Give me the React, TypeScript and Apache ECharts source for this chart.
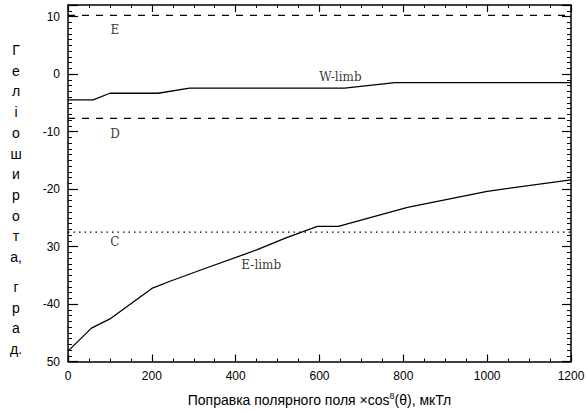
import React, { useEffect, useRef } from "react";
import * as echarts from "echarts";

// ---- data ----
const xTickValues = [0, 200, 400, 600, 800, 1000, 1200];
const xTickLabels = ["0", "200", "400", "600", "800", "1000", "1200"];
const yTickValues = [-50, -40, -30, -20, -10, 0, 10];
const yTickLabels = ["50", "-40", "30", "-20", "-10", "0", "10"];

const wLimbX = [0, 60, 100, 215, 290, 660, 780, 1200];
const wLimbY = [-4.5, -4.5, -3.35, -3.35, -2.45, -2.45, -1.5, -1.5];

const eLimbX = [0, 56, 100, 200, 245, 320, 450, 520, 595, 645, 810, 1000, 1200];
const eLimbY = [-48.2, -44.2, -42.6, -37.3, -36.0, -34.0, -30.6, -28.5, -26.5, -26.5, -23.2, -20.4, -18.4];

const levelE = 10.2;
const levelD = -7.7;
const levelC = -27.5;

const annotationLabels = ["E", "D", "C", "W-limb", "E-limb"];
const annotationX = [112, 112, 112, 650, 461];
const annotationY = [7.6, -10.4, -29.2, -0.5, -33.3];

const yTitleTop = ["Г", "е", "л", "і", "о", "ш", "и", "р", "о", "т", "а,"];
const yTitleBottom = ["г", "р", "а", "д."];

const xName = "Поправка полярного поля ×cos{sup|8}(θ), мкТл";

const X_MIN = 0, X_MAX = 1200, Y_MIN = -50, Y_MAX = 12;

export default function App() {
  const ref = useRef<HTMLDivElement>(null);

  useEffect(() => {
    if (!ref.current) return;
    const chart = echarts.init(ref.current, undefined, { renderer: "svg" });
    const black = "#000";
    const tickFont = { fontFamily: "Liberation Sans", fontSize: 12, color: black };

    const yLabel = (v: number) => {
      const i = yTickValues.findIndex((t) => Math.abs(t - v) < 1e-6);
      return i >= 0 ? yTickLabels[i] : "";
    };
    const xLabel = (v: number) => {
      const i = xTickValues.findIndex((t) => Math.abs(t - v) < 1e-6);
      return i >= 0 ? xTickLabels[i] : "";
    };

    const axisLine = { show: true, onZero: false, lineStyle: { color: black, width: 1.5 } };

    const level = (y: number) => [[X_MIN, y], [X_MAX, y]];

    const letterStyle = (ch: string) => ({
      text: ch,
      fill: black,
      fontSize: 14,
      fontFamily: "Liberation Sans",
      fontWeight: "normal",
      align: "center",
      verticalAlign: "middle",
    });

    const graphics: any[] = [];
    yTitleTop.forEach((ch, i) => {
      graphics.push({ type: "text", x: 16, y: 50 + i * 20.7, style: letterStyle(ch) });
    });
    yTitleBottom.forEach((ch, i) => {
      graphics.push({ type: "text", x: 16, y: 287 + i * 20.5, style: letterStyle(ch) });
    });

    chart.setOption({
      animation: false,
      backgroundColor: "#fff",
      grid: { left: 68, right: 17, top: 5, bottom: 50, containLabel: false },
      xAxis: [
        {
          type: "value",
          min: X_MIN,
          max: X_MAX,
          interval: 200,
          position: "bottom",
          axisLine,
          axisTick: { show: true, inside: true, length: 7, lineStyle: { color: black, width: 1.2 } },
          minorTick: { show: true, splitNumber: 4, length: 3, lineStyle: { color: black, width: 1 } },
          splitLine: { show: false },
          axisLabel: { ...tickFont, margin: 8, formatter: xLabel },
          name: xName,
          nameLocation: "middle",
          nameGap: 30,
          nameTextStyle: {
            fontFamily: "Liberation Sans",
            fontSize: 14,
            color: black,
            rich: { sup: { fontSize: 9, verticalAlign: "top", padding: [0, 0, 8, 0], fontFamily: "Liberation Sans", color: black } },
          },
        },
        {
          type: "value",
          min: X_MIN,
          max: X_MAX,
          interval: 200,
          position: "top",
          axisLine,
          axisTick: { show: true, inside: true, length: 7, lineStyle: { color: black, width: 1.2 } },
          minorTick: { show: true, splitNumber: 4, length: 3, lineStyle: { color: black, width: 1 } },
          splitLine: { show: false },
          axisLabel: { show: false },
        },
      ],
      yAxis: [
        {
          type: "value",
          min: Y_MIN,
          max: Y_MAX,
          interval: 10,
          position: "left",
          axisLine,
          axisTick: { show: true, inside: true, length: 10, lineStyle: { color: black, width: 1.2 } },
          minorTick: { show: true, splitNumber: 10, length: 4, lineStyle: { color: black, width: 1 } },
          splitLine: { show: false },
          axisLabel: { ...tickFont, margin: 8, formatter: yLabel },
        },
        {
          type: "value",
          min: Y_MIN,
          max: Y_MAX,
          interval: 10,
          position: "right",
          axisLine,
          axisTick: { show: true, inside: true, length: 9, lineStyle: { color: black, width: 1.2 } },
          minorTick: { show: true, splitNumber: 10, length: 4, lineStyle: { color: black, width: 1 } },
          splitLine: { show: false },
          axisLabel: { show: false },
        },
      ],
      series: [
        {
          name: "W-limb",
          type: "line",
          data: wLimbX.map((x, i) => [x, wLimbY[i]]),
          symbol: "none",
          lineStyle: { color: black, width: 1.3 },
        },
        {
          name: "E-limb",
          type: "line",
          data: eLimbX.map((x, i) => [x, eLimbY[i]]),
          symbol: "none",
          lineStyle: { color: black, width: 1.3 },
        },
        {
          name: "E level",
          type: "line",
          data: level(levelE),
          symbol: "none",
          lineStyle: { color: black, width: 1.2, type: [7, 7] },
        },
        {
          name: "D level",
          type: "line",
          data: level(levelD),
          symbol: "none",
          lineStyle: { color: black, width: 1.2, type: [7, 7] },
        },
        {
          name: "C level",
          type: "line",
          data: level(levelC),
          symbol: "none",
          lineStyle: { color: black, width: 1.2, type: [1.5, 4] },
        },
        {
          name: "labels",
          type: "scatter",
          symbolSize: 0,
          itemStyle: { color: black },
          data: annotationX.map((x, i) => ({ value: [x, annotationY[i]], name: annotationLabels[i] })),
          label: {
            show: true,
            position: "inside",
            formatter: (p: any) => p.name,
            fontFamily: "DejaVu Serif",
            fontSize: 12,
            color: black,
            textBorderWidth: 0,
            textBorderColor: "transparent",
          },
        },
      ],
      graphic: graphics,
    });

    return () => chart.dispose();
  }, []);

  return (
    <div
      ref={ref}
      style={{ position: "absolute", left: 0, top: 0, width: 588, height: 412, background: "#fff" }}
    />
  );
}
